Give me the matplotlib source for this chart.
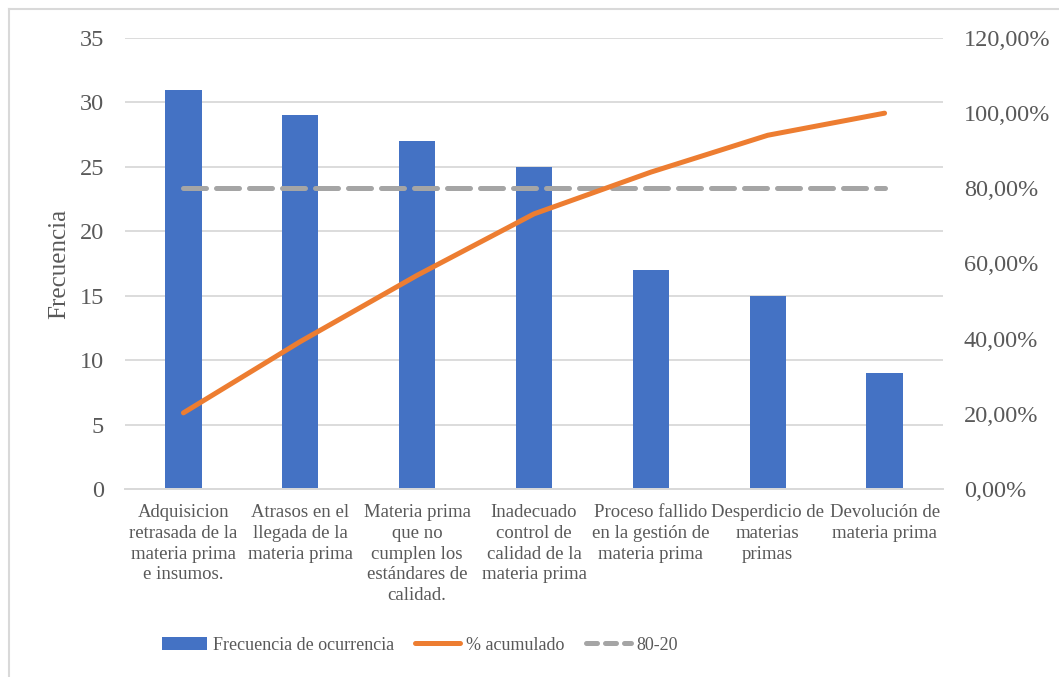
import matplotlib
matplotlib.use("Agg")
import matplotlib.pyplot as plt
from matplotlib.lines import Line2D
from matplotlib.patches import Patch
from matplotlib.ticker import FuncFormatter, MultipleLocator

plt.rcParams['font.family'] = ['Liberation Serif', 'DejaVu Serif']

categories = [
    "Adquisicion\nretrasada de la\nmateria prima\ne insumos.",
    "Atrasos en el\nllegada de la\nmateria prima",
    "Materia prima\nque no\ncumplen los\nestándares de\ncalidad.",
    "Inadecuado\ncontrol de\ncalidad de la\nmateria prima",
    "Proceso fallido\nen la gestión de\nmateria prima",
    "Desperdicio de\nmaterias\nprimas",
    "Devolución de\nmateria prima",
]
frecuencia = [31, 29, 27, 25, 17, 15, 9]
acumulado = [0.2026, 0.3922, 0.5686, 0.7320, 0.8431, 0.9412, 1.0000]
linea_80_20 = [0.80, 0.80, 0.80, 0.80, 0.80, 0.80, 0.80]

BLUE = "#4472C4"
ORANGE = "#ED7D31"
GRAY = "#A5A5A5"
GRID = "#D9D9D9"
TEXT = "#595959"

W, H = 1059, 677
fig = plt.figure(figsize=(W / 100, H / 100), dpi=100)
ax = fig.add_axes([125 / W, 1 - 489 / H, (943 - 125) / W, (489 - 38) / H])
ax2 = ax.twinx()

x = list(range(len(categories)))
ax.bar(x, frecuencia, width=0.31, color=BLUE, zorder=2)
ax.set_xlim(-0.5, len(categories) - 0.5)
ax.set_ylim(0, 35)
ax.yaxis.set_major_locator(MultipleLocator(5))
ax.grid(axis="y", color=GRID, linewidth=1.3, zorder=0)
ax.set_axisbelow(True)

ax2.plot(x, acumulado, color=ORANGE, linewidth=3.6, solid_capstyle="round", zorder=4)
ax2.plot(x, linea_80_20, color=GRAY, linewidth=3.6, dashes=(4.6, 2.0),
         dash_capstyle="round", zorder=3)
ax2.set_ylim(0, 1.2)
ax2.yaxis.set_major_locator(MultipleLocator(0.2))
ax2.yaxis.set_major_formatter(
    FuncFormatter(lambda v, p: f"{v * 100:.2f}".replace(".", ",") + "%"))

for a in (ax, ax2):
    for side in ("top", "left", "right"):
        a.spines[side].set_visible(False)
    a.spines["bottom"].set_color(GRID)
    a.spines["bottom"].set_linewidth(1.3)
    a.tick_params(axis="y", length=0, labelsize=17.5, labelcolor=TEXT, pad=15)

ax.set_xticks(x)
ax.set_xticklabels(categories, fontsize=13.5, color=TEXT, linespacing=1.28)
ax.tick_params(axis="x", length=0, pad=11)
ax.set_ylabel("Frecuencia", fontsize=18, color=TEXT)
ax.yaxis.set_label_coords(-0.067, 0.5)

handles = [
    Patch(facecolor=BLUE, edgecolor="none", label="Frecuencia de ocurrencia"),
    Line2D([], [], color=ORANGE, linewidth=3.6, solid_capstyle="round", label="% acumulado"),
    Line2D([], [], color=GRAY, linewidth=3.6, dashes=(2.2, 1.6), dash_capstyle="round",
           label="80-20"),
]
leg = fig.legend(handles=handles, loc="center left",
                 bbox_to_anchor=(162 / W, 1 - 645 / H),
                 ncol=3, frameon=False, fontsize=13, handlelength=2.5,
                 handleheight=0.75, handletextpad=0.3, columnspacing=1.2,
                 borderaxespad=0, borderpad=0)
for t in leg.get_texts():
    t.set_color(TEXT)

# outer chart border
fig.add_artist(Line2D([8.5 / W, 8.5 / W], [0, 1 - 8.5 / H], color=GRID, linewidth=1.5,
                      transform=fig.transFigure))
fig.add_artist(Line2D([8.5 / W, 1], [1 - 8.5 / H, 1 - 8.5 / H], color=GRID, linewidth=1.5,
                      transform=fig.transFigure))

fig.savefig("out.png", dpi=100)
